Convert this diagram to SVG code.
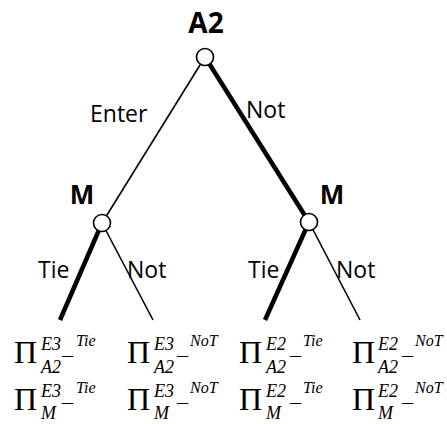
<svg xmlns="http://www.w3.org/2000/svg" width="447" height="424" viewBox="0 0 447 424">
<style>
.lbl{font-family:"Open Sans",sans-serif;font-size:23px;fill:#000}
.b{font-family:"Open Sans",sans-serif;font-weight:bold;fill:#000}
.pi{font-family:"Liberation Serif",serif;font-size:32px;fill:#000}
.it{font-family:"Liberation Serif",serif;font-style:italic;font-size:18px;fill:#000}
.us{font-family:"Liberation Serif",serif;font-size:22px;fill:#000}
.its{font-family:"Liberation Serif",serif;font-style:italic;font-size:16px;fill:#000}
.thin{stroke:#000;stroke-width:1.6;fill:none}
.thick{stroke:#000;stroke-width:4.5;fill:none}
.node{fill:#fff;stroke:#000;stroke-width:1.6}
</style>
<g id="connectors">
<line class="thin" x1="205" y1="57" x2="102" y2="223"/>
<line class="thick" x1="205" y1="57" x2="309" y2="222"/>
<line class="thick" x1="102" y1="223" x2="60" y2="320"/>
<line class="thin" x1="102" y1="223" x2="153" y2="320"/>
<line class="thick" x1="309" y1="222" x2="265" y2="320"/>
<line class="thin" x1="309" y1="222" x2="360" y2="320"/>
</g>
<g id="edge-labels">
<text class="lbl" x="90" y="122">Enter</text>
<text class="lbl" x="246" y="118">Not</text>
<text class="lbl" x="38" y="278">Tie</text>
<text class="lbl" x="127" y="278">Not</text>
<text class="lbl" x="248" y="278">Tie</text>
<text class="lbl" x="336" y="278">Not</text>
</g>
<g id="node-A2">
<text class="b" x="206" y="33" font-size="28" text-anchor="middle">A2</text>
<circle class="node" cx="205" cy="57" r="8.5"/>
</g>
<g id="node-M-left">
<text class="b" x="82" y="204" font-size="26" text-anchor="middle">M</text>
<circle class="node" cx="102" cy="223" r="8.5"/>
</g>
<g id="node-M-right">
<text class="b" x="332" y="204" font-size="26" text-anchor="middle">M</text>
<circle class="node" cx="309" cy="222" r="8.5"/>
</g>
<g id="payoff-1">
<text class="pi" x="14" y="363">Π</text>
<text class="it" x="41" y="350">E3</text>
<text class="us" x="62" y="354">_</text>
<text class="its" x="76" y="346">Tie</text>
<text class="it" x="41" y="373">A2</text>
<text class="pi" x="14" y="410">Π</text>
<text class="it" x="41" y="397">E3</text>
<text class="us" x="62" y="401">_</text>
<text class="its" x="76" y="393">Tie</text>
<text class="it" x="41" y="419">M</text>
</g>
<g id="payoff-2">
<text class="pi" x="127" y="363">Π</text>
<text class="it" x="154" y="350">E3</text>
<text class="us" x="177" y="354">_</text>
<text class="its" x="190" y="346">NoT</text>
<text class="it" x="154" y="373">A2</text>
<text class="pi" x="127" y="410">Π</text>
<text class="it" x="154" y="397">E3</text>
<text class="us" x="177" y="401">_</text>
<text class="its" x="190" y="393">NoT</text>
<text class="it" x="154" y="419">M</text>
</g>
<g id="payoff-3">
<text class="pi" x="239" y="363">Π</text>
<text class="it" x="266" y="350">E2</text>
<text class="us" x="290" y="354">_</text>
<text class="its" x="303" y="346">Tie</text>
<text class="it" x="266" y="373">A2</text>
<text class="pi" x="239" y="410">Π</text>
<text class="it" x="266" y="397">E2</text>
<text class="us" x="290" y="401">_</text>
<text class="its" x="303" y="393">Tie</text>
<text class="it" x="266" y="419">M</text>
</g>
<g id="payoff-4">
<text class="pi" x="352" y="363">Π</text>
<text class="it" x="378" y="350">E2</text>
<text class="us" x="402" y="354">_</text>
<text class="its" x="415" y="346">NoT</text>
<text class="it" x="378" y="373">A2</text>
<text class="pi" x="352" y="410">Π</text>
<text class="it" x="378" y="397">E2</text>
<text class="us" x="402" y="401">_</text>
<text class="its" x="415" y="393">NoT</text>
<text class="it" x="378" y="419">M</text>
</g>
</svg>
